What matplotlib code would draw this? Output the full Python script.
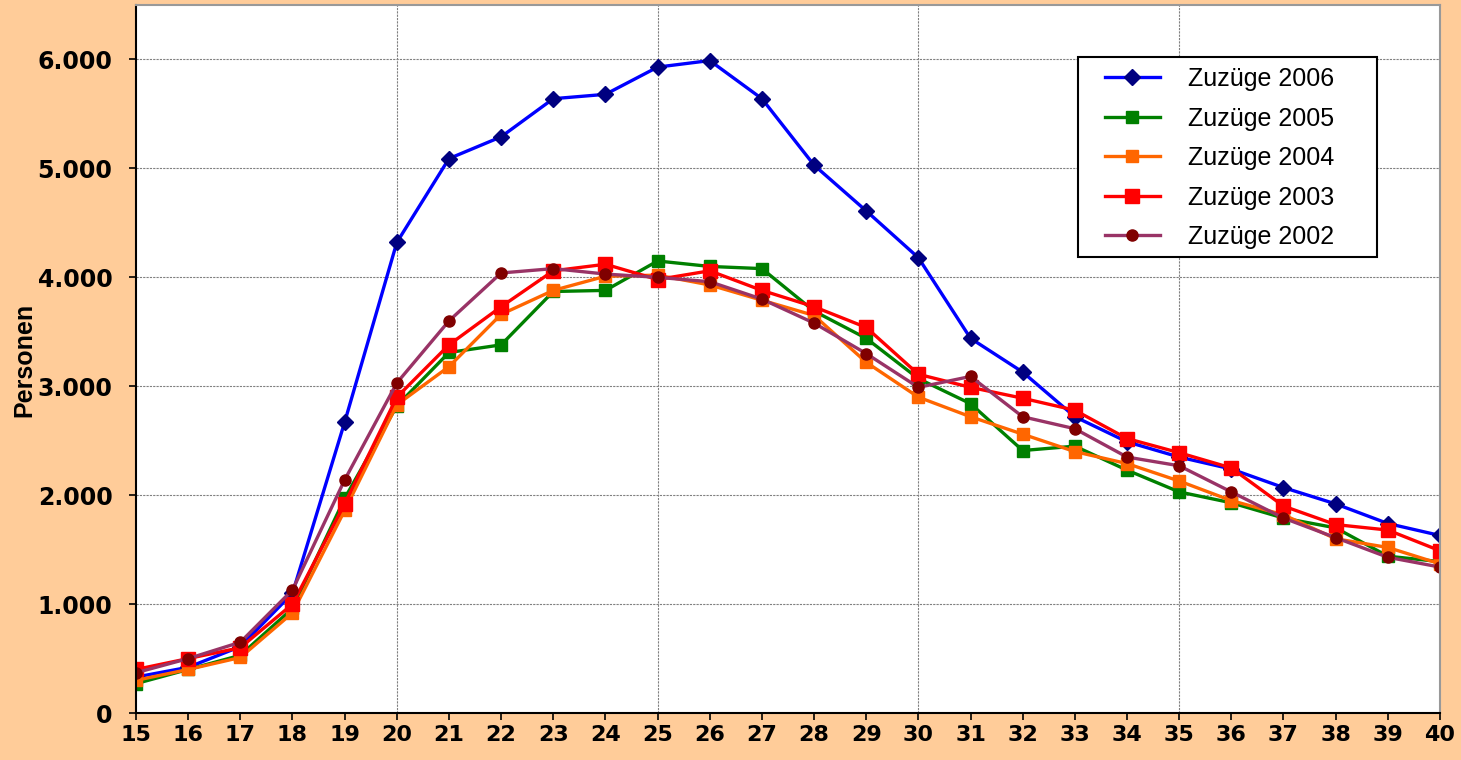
import numpy as np
import matplotlib
matplotlib.use("Agg")
import matplotlib.pyplot as plt
from matplotlib.patches import Rectangle
from matplotlib.ticker import FuncFormatter, MultipleLocator

# Alter (Jahre)
ages = list(range(15, 41))

zuzuege_2006 = [330, 420, 610, 1100, 2670, 4320, 5090, 5290, 5640, 5680, 5930, 5990, 5640,
                5030, 4610, 4180, 3440, 3130, 2720, 2490, 2350, 2240, 2070, 1920, 1740, 1630]
zuzuege_2005 = [270, 400, 530, 960, 1970, 2820, 3310, 3380, 3870, 3880, 4150, 4100, 4080,
                3690, 3440, 3070, 2840, 2410, 2450, 2230, 2030, 1930, 1790, 1700, 1440, 1390]
zuzuege_2004 = [300, 400, 510, 920, 1860, 2830, 3180, 3660, 3880, 4010, 4020, 3930, 3790,
                3650, 3220, 2900, 2720, 2560, 2400, 2290, 2130, 1950, 1820, 1600, 1520, 1370]
zuzuege_2003 = [400, 500, 600, 1000, 1920, 2900, 3380, 3730, 4060, 4120, 3980, 4060, 3880,
                3730, 3540, 3110, 2990, 2890, 2780, 2520, 2390, 2250, 1900, 1730, 1680, 1490]
zuzuege_2002 = [370, 500, 650, 1130, 2140, 3030, 3600, 4040, 4080, 4030, 4000, 3960, 3800,
                3580, 3300, 2990, 3090, 2720, 2610, 2350, 2270, 2030, 1790, 1610, 1430, 1340]

series = [
    ("Zuzüge 2006", zuzuege_2006, "#0000FF", "#000080", "D", 8),
    ("Zuzüge 2005", zuzuege_2005, "#008000", "#008000", "s", 8),
    ("Zuzüge 2004", zuzuege_2004, "#FF6600", "#FF6600", "s", 8),
    ("Zuzüge 2003", zuzuege_2003, "#FF0000", "#FF0000", "s", 10),
    ("Zuzüge 2002", zuzuege_2002, "#993366", "#800000", "o", 8),
]

bg = "#FFCC99"

fig = plt.figure(figsize=(14.61, 7.60), dpi=100, facecolor=bg)
ax = fig.add_axes([0.0931, 0.0618, 0.8925, 0.9316])
ax.set_facecolor("white")

for label, vals, lc, mc, marker, ms in series:
    ax.plot(ages, vals, color=lc, linewidth=2.4, marker=marker, markersize=ms,
            markerfacecolor=mc, markeredgecolor=mc, label=label)

ax.set_xlim(15, 40)
ax.set_ylim(0, 6500)
ax.xaxis.set_major_locator(MultipleLocator(1))
ax.set_yticks(range(0, 7000, 1000))
ax.yaxis.set_major_formatter(FuncFormatter(lambda v, p: f"{int(v):,}".replace(",", ".")))

# Gitter: horizontal jede 1000, vertikal jede 5 Jahre
for y in range(1000, 7000, 1000):
    ax.axhline(y, color="#808080", linewidth=0.8, linestyle=(0, (2, 1)), zorder=0)
for x in range(20, 40, 5):
    ax.axvline(x, color="#808080", linewidth=0.8, linestyle=(0, (2, 1)), zorder=0)

for side in ["top", "right"]:
    ax.spines[side].set_color("#999999")
    ax.spines[side].set_linewidth(1.5)
for side in ["left", "bottom"]:
    ax.spines[side].set_color("black")
    ax.spines[side].set_linewidth(1.5)

ax.tick_params(axis="x", direction="out", length=5, width=1.2, labelsize=16)
ax.tick_params(axis="y", direction="out", length=5, width=1.2, labelsize=17, pad=12)
for lbl in ax.get_xticklabels() + ax.get_yticklabels():
    lbl.set_fontweight("bold")
    lbl.set_family("DejaVu Sans")

fig.text(0.0165, 0.526, "Personen", rotation=90, ha="center", va="center",
         fontsize=18, fontweight="bold", family="Liberation Sans")

# Legendenrahmen
frame = Rectangle((0.7224, 0.6441), 0.2293, 0.2825, transform=ax.transAxes,
                  facecolor="white", edgecolor="black", linewidth=1.5, zorder=5)
ax.add_patch(frame)

leg = ax.legend(loc="upper left", bbox_to_anchor=(0.7431, 0.9124),
                prop={"family": "Liberation Sans", "size": 18},
                frameon=False, handlelength=2.2, handletextpad=1.12,
                labelspacing=0.62, borderpad=0, borderaxespad=0)
leg.set_zorder(6)

fig.savefig("out.png", dpi=100, facecolor=bg)
